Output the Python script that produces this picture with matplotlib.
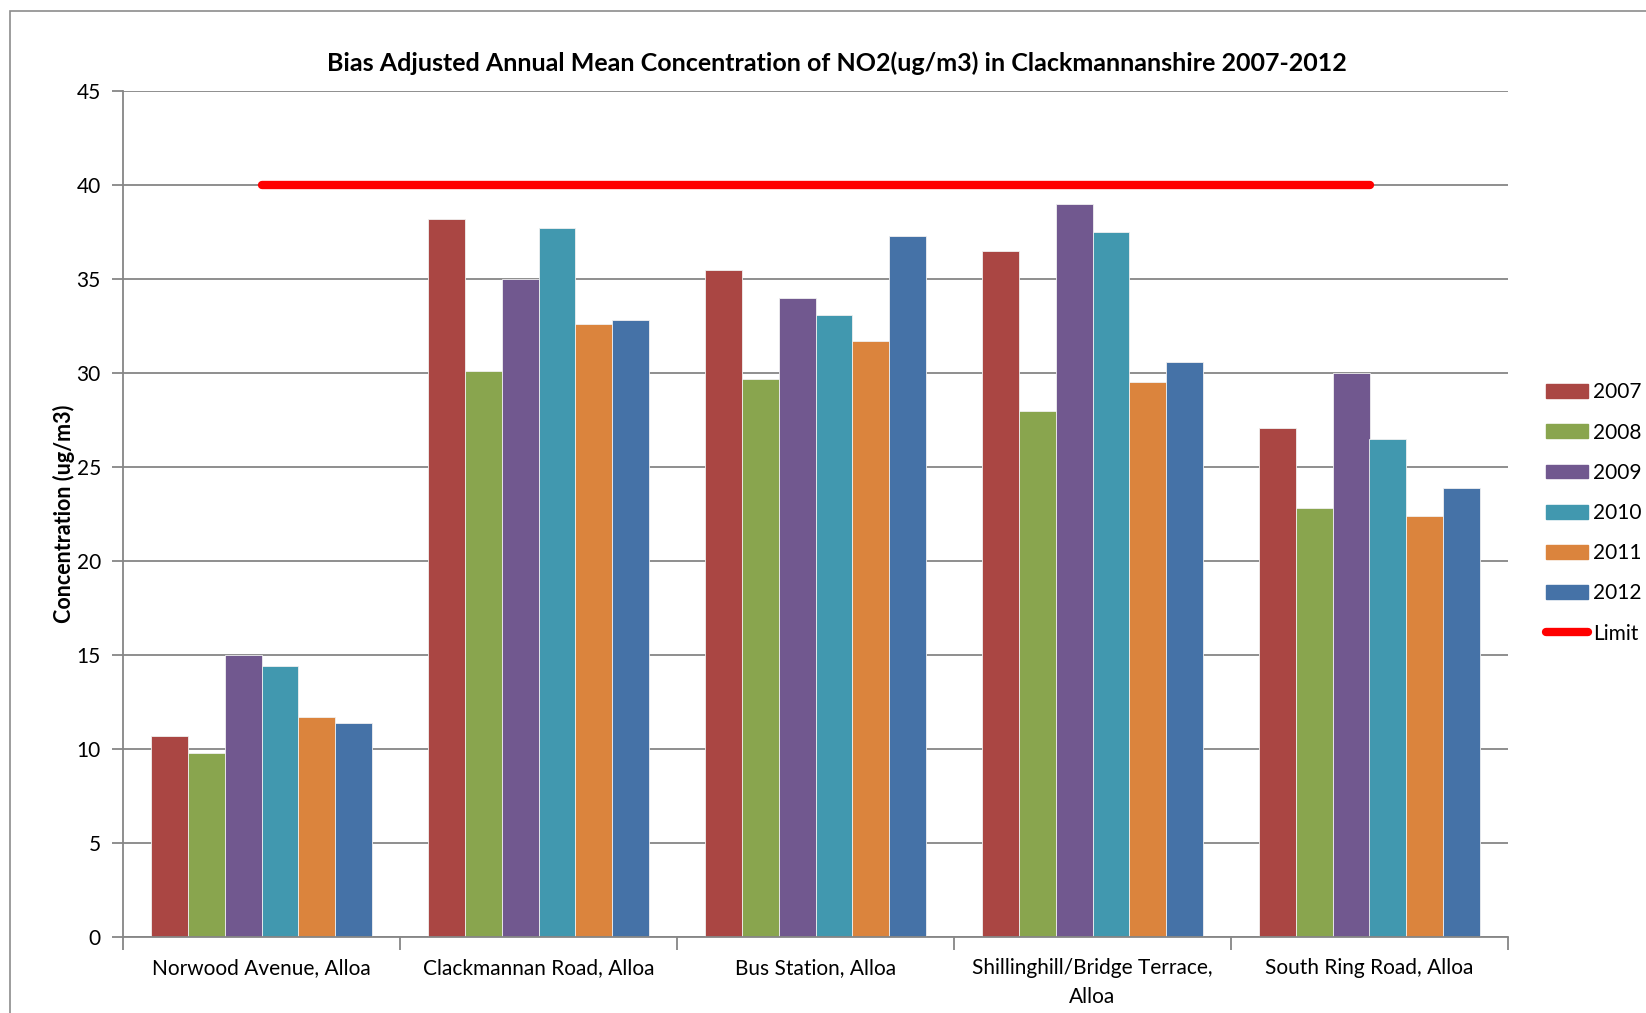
import matplotlib.pyplot as plt
import matplotlib.patches as mpatches
from matplotlib.lines import Line2D
import numpy as np

plt.rcParams['font.family'] = ['Lato', 'DejaVu Sans']

# Data
sites = ["Norwood Avenue, Alloa", "Clackmannan Road, Alloa", "Bus Station, Alloa",
         "Shillinghill/Bridge Terrace,\nAlloa", "South Ring Road, Alloa"]
years = ["2007", "2008", "2009", "2010", "2011", "2012"]
v2007 = [10.7, 38.2, 35.5, 36.5, 27.1]
v2008 = [9.8, 30.1, 29.7, 28.0, 22.8]
v2009 = [15.0, 35.0, 34.0, 39.0, 30.0]
v2010 = [14.4, 37.7, 33.1, 37.5, 26.5]
v2011 = [11.7, 32.6, 31.7, 29.5, 22.4]
v2012 = [11.4, 32.8, 37.3, 30.6, 23.9]
limit = [40, 40, 40, 40, 40]

series = [v2007, v2008, v2009, v2010, v2011, v2012]
colors = ['#AA4643', '#89A54E', '#71588F', '#4198AF', '#DB843D', '#4572A7']
grid_col = '#868686'

fig = plt.figure(figsize=(16.46, 10.13), dpi=100)
ax = fig.add_axes([123/1646, 1 - 937/1013, (1508-123)/1646, (937-91)/1013])

# outer chart border (runs off the right/bottom edges)
fig.patches.append(mpatches.Rectangle((10/1646, -0.1), 1.2, 1.1 - 11/1013,
                                      transform=fig.transFigure, fill=False,
                                      edgecolor='#8c8c8c', linewidth=1.2))

x = np.arange(len(sites))
w = 1 / 7.5
for i, (vals, c) in enumerate(zip(series, colors)):
    ax.bar(x + (i - 2.5) * w, vals, width=w, color=c, edgecolor='#f0f0f0',
           linewidth=0.6, zorder=2, label=years[i])

ax.plot(x, limit, color='#ff0000', linewidth=6, solid_capstyle='round', zorder=3,
        label='Limit')

ax.set_xlim(-0.5, len(sites) - 0.5)
ax.set_ylim(0, 45)
ax.set_yticks(range(0, 46, 5))
ax.yaxis.grid(True, color=grid_col, linewidth=1.3, zorder=0)
ax.set_axisbelow(True)

ax.set_xticks(x)
ax.set_xticklabels(sites, fontsize=15, linespacing=1.55)
ax.set_xticks(np.arange(-0.5, len(sites), 1), minor=True)
ax.tick_params(axis='x', which='major', length=0, pad=15)
ax.tick_params(axis='x', which='minor', length=9, width=1.3, color=grid_col)
ax.tick_params(axis='y', length=8, width=1.3, color=grid_col, labelsize=15, pad=8)

for s in ['top', 'right']:
    ax.spines[s].set_visible(False)
for s in ['left', 'bottom']:
    ax.spines[s].set_color(grid_col)
    ax.spines[s].set_linewidth(1.3)

ax.set_ylabel('Concentration (ug/m3)', fontsize=15.5, fontweight='bold', labelpad=1)
fig.text(837/1646, 1 - 63/1013,
         'Bias Adjusted Annual Mean Concentration of NO2(ug/m3) in Clackmannanshire 2007-2012',
         ha='center', va='center', fontsize=18, fontweight='bold')

handles = [mpatches.Patch(color=c, label=y) for c, y in zip(colors, years)]
handles.append(Line2D([], [], color='#ff0000', linewidth=6, solid_capstyle='round', label='Limit'))
fig.legend(handles=handles, loc='center left', bbox_to_anchor=(1536/1646, 1 - 513/1013),
           frameon=False, fontsize=15, handlelength=2.0, handleheight=0.65,
           handletextpad=0.25, labelspacing=0.97, borderpad=0)

fig.savefig('out.png', dpi=100)
